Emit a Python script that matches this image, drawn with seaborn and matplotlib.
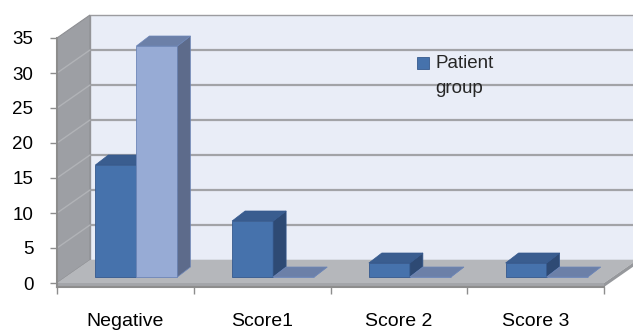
import matplotlib
matplotlib.use("Agg")
import matplotlib.pyplot as plt
import numpy as np
import pandas as pd
import seaborn as sns
from matplotlib.patches import Polygon, Rectangle
from matplotlib.legend_handler import HandlerPatch

# ---- data -------------------------------------------------------------
categories = ["Negative", "Score1", "Score 2", "Score 3"]
groups = ["Patient group", "Control group"]
patient_counts = [16, 8, 2, 2]
control_counts = [33, 0, 0, 0]
y_ticks = [0, 5, 10, 15, 20, 25, 30, 35]

df = pd.DataFrame({
    "category": categories * 2,
    "group": [groups[0]] * len(categories) + [groups[1]] * len(categories),
    "count": patient_counts + control_counts,
})

# ---- style ------------------------------------------------------------
sns.set_theme(style="white")
plt.rcParams["font.family"] = ["Liberation Sans", "DejaVu Sans"]

front_col = ["#4672ac", "#97abd5"]
top_col = ["#3a5d8f", "#6c80a8"]
side_col = ["#2e4a74", "#5d6b8b"]
edge_col = ["#35598e", "#6d86b8"]

W, H, DPI = 633, 335, 100
fig = plt.figure(figsize=(W / DPI, H / DPI), dpi=DPI)
fig.patch.set_facecolor("white")
ax = fig.add_axes([57 / W, (H - 287) / H, 547 / W, 249 / H])
ax.set_facecolor("none")

sns.barplot(data=df, x="category", y="count", hue="group", hue_order=groups,
            palette=front_col, width=0.6, gap=0, saturation=1, legend=False,
            ax=ax, zorder=3)

ax.set_xlim(-0.5, len(categories) - 0.5)
ax.set_ylim(-4 / 7, max(y_ticks))
ymin, ymax = ax.get_ylim()
xl, xr = ax.get_xlim()


def to_data(dx, dy):
    """Convert a screen offset in pixels into data units."""
    inv = ax.transData.inverted()
    x0, y0 = inv.transform((0, 0))
    x1, y1 = inv.transform((dx, dy))
    return x1 - x0, y1 - y0


bx, by = to_data(33, 23)      # depth of the floor / back wall
px_, py_ = to_data(11, 6)     # plane on which the bars stand
dx, dy = to_data(13, 10)      # depth of each bar


def poly(pts, fc, ec="none", lw=0.0, z=0.5):
    ax.add_patch(Polygon(pts, closed=True, facecolor=fc, edgecolor=ec,
                         linewidth=lw, zorder=z, clip_on=False))


# back wall with gridlines
poly([(xl + bx, by), (xr + bx, by), (xr + bx, ymax + by), (xl + bx, ymax + by)],
     "#e9edf7", "#9c9ca0", 1.0, 0.5)
for v in y_ticks[1:-1]:
    ax.plot([xl + bx, xr + bx], [v + by, v + by], color="#a2a3a7", lw=1.6,
            zorder=0.6, clip_on=False)

# left wall
poly([(xl, 0), (xl, ymax), (xl + bx, ymax + by), (xl + bx, by)],
     "#9d9fa4", "#8e8f93", 0.8, 0.7)
for v in y_ticks[1:-1]:
    ax.plot([xl, xl + bx], [v, v + by], color="#b1b3b7", lw=1.0,
            zorder=0.75, clip_on=False)

# floor slab
poly([(xl, 0), (xr, 0), (xr + bx, by), (xl + bx, by)], "#b5b7bb", z=0.8)
poly([(xl, ymin), (xr, ymin), (xr, 0), (xl, 0)], "#a3a5a9", z=0.8)
poly([(xr, ymin), (xr, 0), (xr + bx, by), (xr + bx, by + ymin)], "#96989c", z=0.8)

# move the bars onto their plane and give them top and side faces
for k, cont in enumerate(ax.containers):
    for p in cont.patches:
        x0 = p.get_x() + px_
        w = p.get_width()
        h = p.get_height()
        p.set_x(x0)
        p.set_y(py_)
        p.set_edgecolor(edge_col[k])
        p.set_linewidth(0.6)
        x1 = x0 + w
        b, t = py_, py_ + h
        z = 3 + k * 0.5
        p.set_zorder(z)
        poly([(x1, b), (x1, t), (x1 + dx, t + dy), (x1 + dx, b + dy)],
             side_col[k], edge_col[k], 0.5, z + 0.1)
        poly([(x0, t), (x1, t), (x1 + dx, t + dy), (x0 + dx, t + dy)],
             top_col[k], edge_col[k], 0.5, z + 0.2)

# axes, ticks and labels
for s in ("top", "right"):
    ax.spines[s].set_visible(False)
for s in ("left", "bottom"):
    ax.spines[s].set_color("#8d8d8d")
    ax.spines[s].set_linewidth(1.5)
    ax.spines[s].set_zorder(5)

ax.set_yticks(y_ticks)
ax.tick_params(axis="y", left=True, length=5, width=1, color="#8d8d8d",
               pad=12, labelsize=13.5, labelcolor="black")
ax.set_xticks(np.arange(-0.5, len(categories)), minor=True)
ax.tick_params(axis="x", which="minor", bottom=True, length=5, width=1,
               color="#8d8d8d")
ax.tick_params(axis="x", which="major", bottom=False, length=0, pad=19,
               labelsize=14, labelcolor="black")
ax.set_xlabel("")
ax.set_ylabel("")


def top_square(legend, orig_handle, xdescent, ydescent, width, height, fontsize):
    # square marker level with the first line of a two-line label
    s = 0.66 * fontsize
    return Rectangle((-xdescent, -ydescent + height - s + 3.0), s, s)


handle = ax.containers[0].patches[0]
leg = ax.legend(handles=[handle], labels=["Patient\ngroup"],
                handler_map={handle: HandlerPatch(patch_func=top_square)},
                loc="upper left", bbox_to_anchor=(417 / W, 1 - 55 / H),
                bbox_transform=fig.transFigure, frameon=False, fontsize=13.5,
                borderpad=0, borderaxespad=0, handlelength=0.7,
                handleheight=2.2, handletextpad=0.3)
leg.get_texts()[0].set_linespacing(1.6)

fig.savefig("out.png", dpi=DPI, facecolor="white")
